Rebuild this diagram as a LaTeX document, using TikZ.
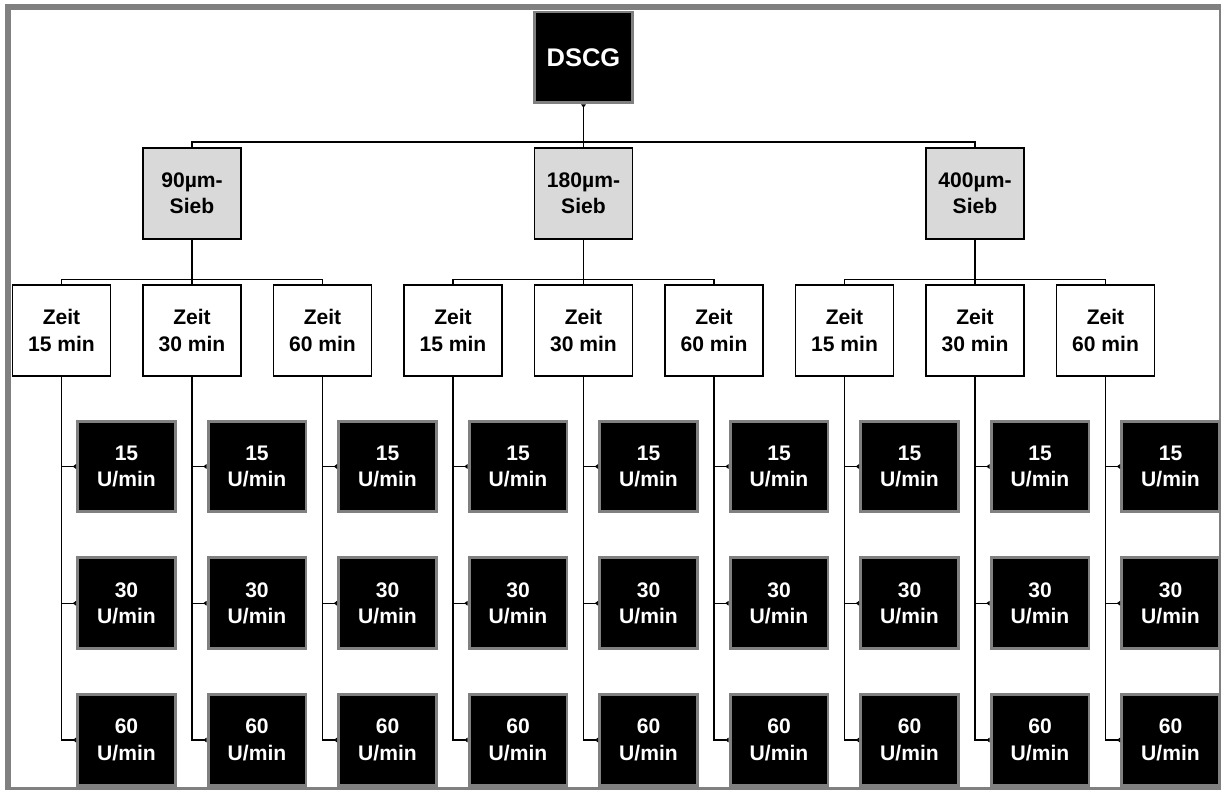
\documentclass[tikz,border=0pt]{standalone}
\usepackage{fontspec}
\setmainfont{Liberation Sans}
\usetikzlibrary{arrows.meta}
\definecolor{rahmen}{HTML}{808080}
\definecolor{siebgrau}{HTML}{D9D9D9}
\tikzset{
  box/.style={minimum width=1.96cm, minimum height=1.82cm, inner sep=0pt, align=center,
    font=\bfseries\fontsize{12}{15}\selectfont},
  darkbox/.style={box, fill=black, draw=rahmen, line width=1.7pt, text=white},
  siebbox/.style={box, fill=siebgrau, draw=black, line width=0.7pt},
  zeitbox/.style={box, fill=white, draw=black, line width=0.8pt},
  ast/.style={line width=0.6pt}
}
\begin{document}
\begin{tikzpicture}[x=0.02cm, y=-0.02cm]
\useasboundingbox (0,0) rectangle (1221,790);
\clip (0,0) rectangle (1221,790);
% frame
\draw[rahmen, line width=3.4pt] (8,7) rectangle (1222,790);
% top
\node[darkbox, font=\bfseries\fontsize{14.5}{17}\selectfont] (dscg) at (583.5,57.5) {DSCG};
\coordinate (bus) at (583.5,142);
\draw[ast, {Latex[reversed,length=2pt,width=3pt]}-] (dscg.south) -- (bus);
% sieves, times, speeds
\foreach \s [count=\i from 0] in {90,180,400} {
  \node[siebbox] (sieb\i) at ({192+391.5*\i},193.5) {\s µm-\\Sieb};
  \draw[ast] (bus) -| (sieb\i.north);
  \foreach \z [count=\j from 0] in {15,30,60} {
    \pgfmathtruncatemacro\t{3*\i+\j}
    \node[zeitbox] (zeit\t) at ({61.5+130.5*\t},330.5) {Zeit\\\z{} min};
    \draw[ast] (sieb\i.south) -- ++(0,40) -| (zeit\t.north);
    \foreach \u [count=\r from 0] in {15,30,60} {
      \node[darkbox] (u\t-\r) at ({126.5+130.5*\t},{466.5+136.75*\r}) {\u\\U/min};
      \draw[ast, -{Latex[reversed,length=2pt,width=3pt]}] (zeit\t.south) |- (u\t-\r.west);
    }
  }
}
\end{tikzpicture}
\end{document}
